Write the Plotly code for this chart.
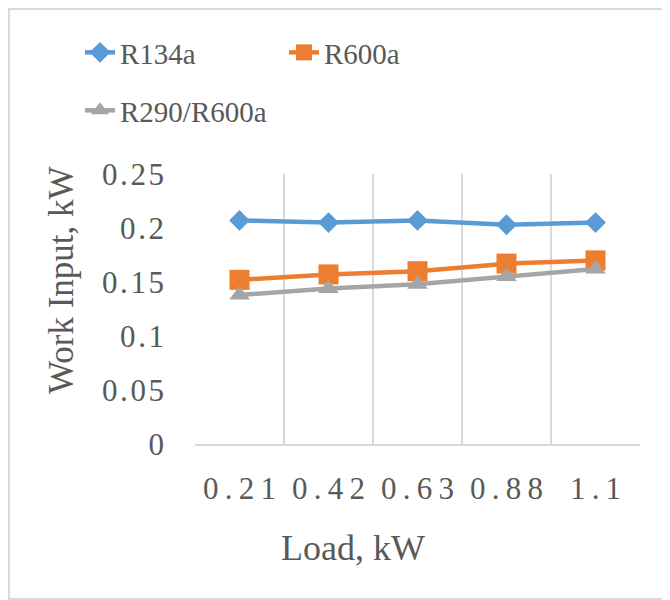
import plotly.graph_objects as go

loads = ["0.21", "0.42", "0.63", "0.88", "1.1"]
r134a = [0.207, 0.205, 0.207, 0.203, 0.205]
r600a = [0.152, 0.157, 0.160, 0.167, 0.170]
r290_r600a = [0.138, 0.144, 0.148, 0.155, 0.162]

y_ticks = [0, 0.05, 0.1, 0.15, 0.2, 0.25]
y_ticktext = ["0", "0.05", "0.1", "0.15", "0.2", "0.25"]

FONT = "Liberation Serif"
TXT = "#595959"
GRID = "#D9D9D9"

# page is rendered with an 8px body margin; layout values below are figure pixels
W, H = 670, 600
L, R, T, B = 187, 38, 166, 164
PW, PH = W - L - R, H - T - B


def px_x(x):
    return (x - L) / PW


def px_y(y):
    return (H - B - y) / PH


fig = go.Figure()
fig.add_trace(go.Scatter(x=loads, y=r134a, name="R134a", mode="lines+markers",
                         line=dict(color="#5B9BD5", width=4.5),
                         marker=dict(symbol="diamond", size=16, color="#5B9BD5"),
                         legend="legend"))
fig.add_trace(go.Scatter(x=loads, y=r600a, name="R600a", mode="lines+markers",
                         line=dict(color="#ED7D31", width=4.5),
                         marker=dict(symbol="square", size=20, color="#ED7D31"),
                         legend="legend"))
fig.add_trace(go.Scatter(x=loads, y=r290_r600a, name="R290/R600a", mode="lines+markers",
                         line=dict(color="#A5A5A5", width=4.5),
                         marker=dict(symbol="triangle-up", size=18, color="#A5A5A5"),
                         legend="legend2"))

x_spaced = ["\u2009".join(list(s)) for s in loads]
y_spaced = ["\u200a".join(list(s)) for s in y_ticktext]

fig.update_layout(
    width=W, height=H,
    margin=dict(l=L, r=R, t=T, b=B, autoexpand=False),
    paper_bgcolor="white", plot_bgcolor="white",
    font=dict(family=FONT, color=TXT, size=28),
    xaxis=dict(type="category", range=[-0.5, 4.5], tickson="boundaries",
               showgrid=True, gridcolor=GRID, gridwidth=2,
               showline=True, linecolor=GRID, linewidth=2,
               ticks="", tickmode="array", tickvals=loads, ticktext=x_spaced,
               tickfont=dict(size=31, family=FONT, color=TXT),
               ticklabelstandoff=16, zeroline=False, fixedrange=True, automargin=False),
    yaxis=dict(range=[0, 0.25], tickmode="array", tickvals=y_ticks, ticktext=y_spaced,
               showgrid=False, zeroline=False, showline=False, ticks="",
               tickfont=dict(size=31, family=FONT, color=TXT),
               ticklabelstandoff=30, fixedrange=True, automargin=False),
    legend=dict(orientation="h", xref="container", yref="container",
                x=72 / W, y=1 - 19 / H, xanchor="left", yanchor="top",
                entrywidth=159, entrywidthmode="pixels",
                font=dict(size=29, family=FONT, color=TXT),
                bgcolor="rgba(0,0,0,0)", tracegroupgap=0),
    legend2=dict(orientation="h", xref="container", yref="container",
                 x=72 / W, y=1 - 77 / H, xanchor="left", yanchor="top",
                 font=dict(size=29, family=FONT, color=TXT),
                 bgcolor="rgba(0,0,0,0)"),
    annotations=[
        dict(text="Load, kW", xref="paper", yref="paper",
             x=px_x(345), y=px_y(540),
             xanchor="center", yanchor="middle", showarrow=False,
             font=dict(size=36, family=FONT, color=TXT)),
        dict(text="Work Input, kW", xref="paper", yref="paper",
             x=px_x(53), y=px_y(272),
             xanchor="center", yanchor="middle", showarrow=False, textangle=-90,
             font=dict(size=35, family=FONT, color=TXT)),
    ],
    shapes=[dict(type="rect", xref="paper", yref="paper",
                 x0=px_x(1), x1=px_x(W + 10),
                 y0=px_y(591), y1=px_y(1),
                 line=dict(color=GRID, width=2), fillcolor="rgba(0,0,0,0)", layer="below")],
)

fig.write_html("out.html")
